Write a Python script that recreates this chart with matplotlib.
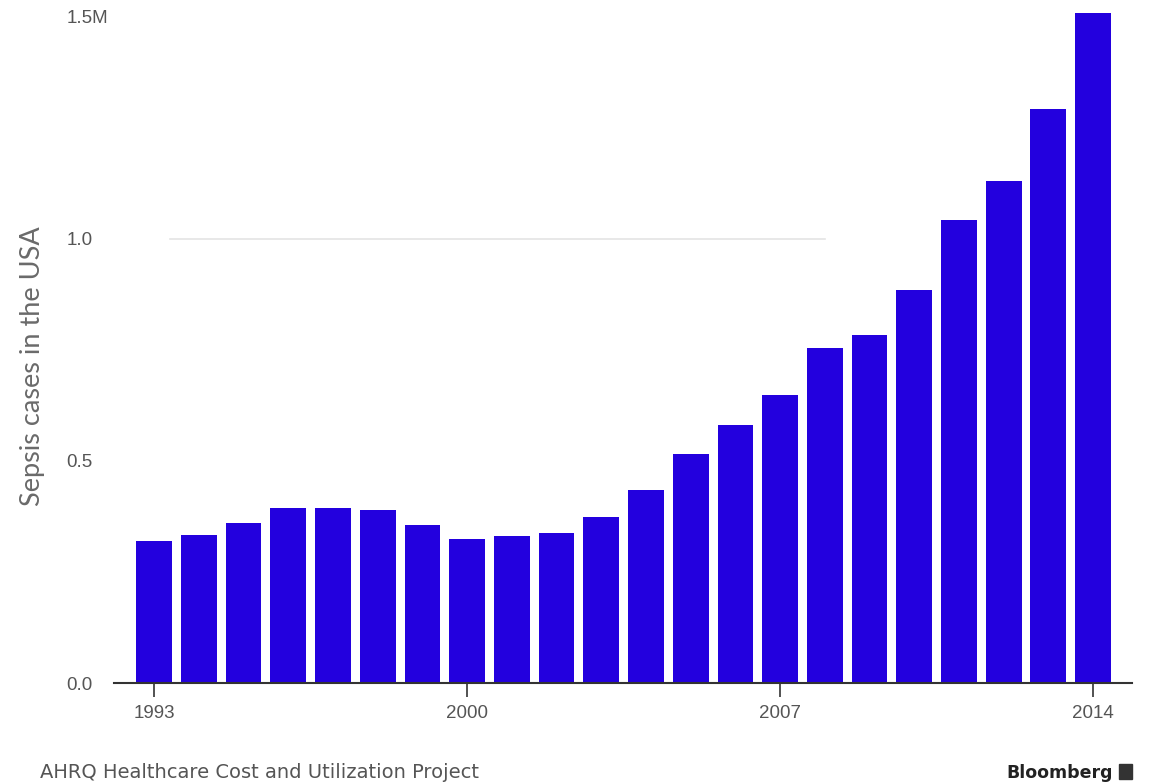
import numpy as np
import matplotlib
matplotlib.use("Agg")
import matplotlib.pyplot as plt
from matplotlib.patches import Rectangle

# sepsis cases per year (millions)
years = list(range(1993, 2015))
cases = [0.320, 0.333, 0.360, 0.394, 0.394, 0.390, 0.356,
         0.325, 0.332, 0.337, 0.373, 0.435, 0.515, 0.582,
         0.648, 0.755, 0.784, 0.885, 1.043, 1.130, 1.293, 1.508]
tick_years = [1993, 2000, 2007, 2014]
tick_vals = [0.0, 0.5, 1.0, 1.5]
tick_text = ["0.0", "0.5", "1.0", "1.5M"]

plt.rcParams["font.family"] = ["Liberation Sans", "DejaVu Sans"]

fig = plt.figure(figsize=(11.7, 7.84), dpi=100)
ax = fig.add_axes([0.0974, 0.1288, 0.8701, 0.861])

ax.bar(years, cases, width=0.8, color="#2300de", zorder=2)

ax.set_xlim(1992.1, 2014.87)
ax.set_ylim(0, 1.52)

# partial gridline at 1.0
ax.axhline(1.0, xmin=0.055, xmax=0.698, color="#e4e4e4", lw=1.2, zorder=1)

for s in ["top", "right", "left"]:
    ax.spines[s].set_visible(False)
ax.spines["bottom"].set_color("#333333")
ax.spines["bottom"].set_linewidth(1.5)

ax.set_xticks(tick_years)
ax.set_xticklabels([str(y) for y in tick_years])
ax.tick_params(axis="x", length=10, width=1.2, color="#333333",
               labelsize=13.5, labelcolor="#555555", pad=6)

ax.set_yticks(tick_vals)
ax.set_yticklabels(tick_text)
ax.tick_params(axis="y", length=0, labelsize=13.5, labelcolor="#555555", pad=34)
for lab in ax.get_yticklabels():
    lab.set_horizontalalignment("left")

fig.text(0.028, 0.533, "Sepsis cases in the USA", rotation=90, ha="center",
         va="center", fontsize=19.5, color="#6a6a6a", family="Lato")

fig.text(0.034, 0.003, "AHRQ Healthcare Cost and Utilization Project",
         fontsize=14, color="#555555", ha="left", va="bottom",
         family="DejaVu Sans")
fig.text(0.951, 0.003, "Bloomberg", fontsize=12.5, fontweight="bold",
         color="#222222", ha="right", va="bottom", family="DejaVu Sans")
fig.patches.append(Rectangle((0.956, 0.007), 0.0115, 0.019,
                             transform=fig.transFigure, color="#333333"))

fig.savefig("out.png", dpi=100, facecolor="white")
